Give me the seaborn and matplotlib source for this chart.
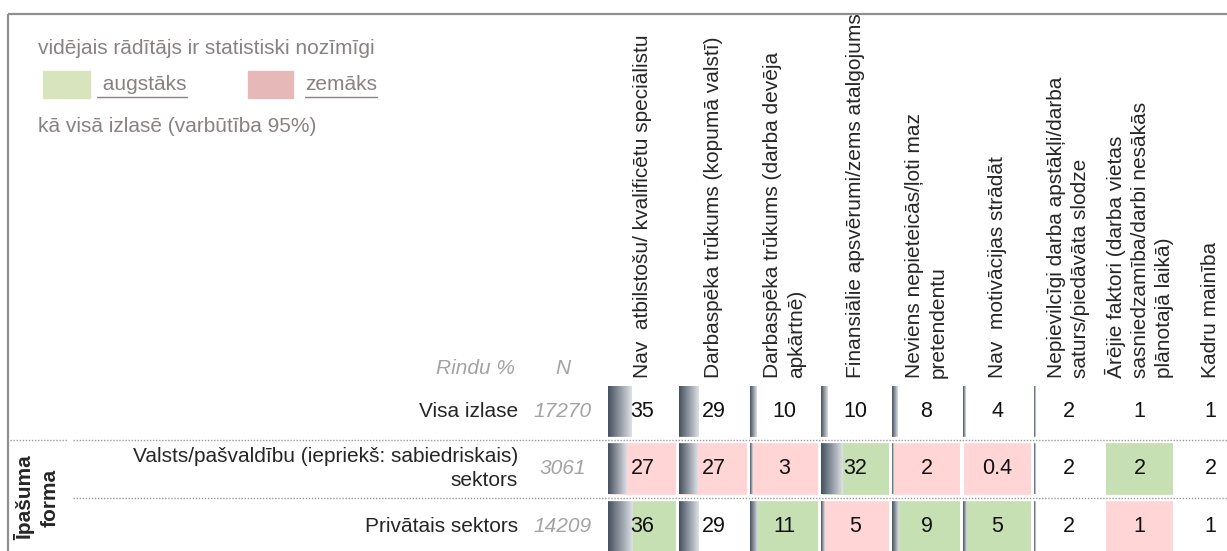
import numpy as np
import matplotlib
matplotlib.use("Agg")
import matplotlib.pyplot as plt
from matplotlib.colors import ListedColormap, LinearSegmentedColormap
from matplotlib.patches import Rectangle
import seaborn as sns

# Datos de la tabla
columnas = [
    "Nav  atbilstošu/ kvalificētu speciālistu",
    "Darbaspēka trūkums (kopumā valstī)",
    "Darbaspēka trūkums (darba devēja\napkārtnē)",
    "Finansiālie apsvērumi/zems atalgojums",
    "Neviens nepieteicās/ļoti maz\npretendentu",
    "Nav  motivācijas strādāt",
    "Nepievilcīgi darba apstākļi/darba\nsaturs/piedāvāta slodze",
    "Ārējie faktori (darba vietas\nsasniedzamība/darbi nesākās\nplānotajā laikā)",
    "Kadru mainība",
]
filas = [
    "Visa izlase",
    "Valsts/pašvaldību (iepriekš: sabiedriskais)\nsektors",
    "Privātais sektors",
]
n_valores = [17270, 3061, 14209]
grupo = "Īpašuma\nforma"

visa_izlase = [35, 29, 10, 10, 8, 4, 2, 1, 1]
valsts = [27, 27, 3, 32, 2, 0.4, 2, 2, 2]
privatais = [36, 29, 11, 5, 9, 5, 2, 1, 1]

# 1 = augstāks, -1 = zemāks, 0 = nav nozīmīgi
sig_visa = [0, 0, 0, 0, 0, 0, 0, 0, 0]
sig_valsts = [-1, -1, -1, 1, -1, -1, 0, 1, 0]
sig_priv = [1, 0, 1, -1, 1, 1, 0, -1, 0]

n_cols_barras = 7  # columnas con barras de datos

valores = np.array([visa_izlase, valsts, privatais], dtype=float)
signif = np.array([sig_visa, sig_valsts, sig_priv])
etiquetas = np.array([[f"{v:g}" for v in fila] for fila in valores])

# Estilo
sns.set_style("white")
plt.rcParams["font.family"] = ["Liberation Sans", "DejaVu Sans"]
FS = 15
FS_NUM = 15.5
verde, rosa = "#c6e0b4", "#ffd5d5"
gris_ley = "#8a8181"
gris_it = "#a3a3a3"

fig = plt.figure(figsize=(12.27, 5.51), dpi=100)

# Capa de fondo en pixeles para marco y leyenda
bg = fig.add_axes([0, 0, 1, 1])
bg.set_xlim(0, 1227)
bg.set_ylim(551, 0)
bg.axis("off")
bg.plot([8, 1227], [14, 14], color="#8f8f8f", lw=1.6, solid_capstyle="butt")
bg.plot([8, 8], [14, 551], color="#8f8f8f", lw=1.6, solid_capstyle="butt")

bg.text(38, 48, "vidējais rādītājs ir statistiski nozīmīgi", color=gris_ley,
        fontsize=FS, va="center")
bg.add_patch(Rectangle((43, 71), 47, 27, color="#d8e4bc"))
t1 = bg.text(97, 85, " augstāks", color=gris_ley, fontsize=FS, va="center")
bg.add_patch(Rectangle((248, 71), 45, 27, color="#e6b8b7"))
t2 = bg.text(305, 85, "zemāks", color=gris_ley, fontsize=FS, va="center")
bg.text(38, 126, "kā visā izlasē (varbūtība 95%)", color=gris_ley,
        fontsize=FS, va="center")

# Tabla principal
ax = fig.add_axes([607 / 1227, (551 - 555) / 551, 9 * 71 / 1227, 172.5 / 551])
sns.heatmap(signif, ax=ax, cmap=ListedColormap([rosa, "white", verde]),
            vmin=-1.5, vmax=1.5, cbar=False, linewidths=1.5, linecolor="white",
            annot=etiquetas, fmt="", annot_kws=dict(fontsize=FS_NUM, color="#111111"),
            xticklabels=False, yticklabels=False)

# Barras con degradado
grad = LinearSegmentedColormap.from_list("barra", ["#46505f", "#dde1e6"])
img = np.linspace(0, 1, 64).reshape(1, -1)
escala = 0.68 / 71
for r in range(valores.shape[0]):
    for c in range(n_cols_barras):
        w = valores[r, c] * escala
        if w * 71 < 0.5:
            continue
        ax.imshow(img, cmap=grad, extent=(c + 0.012, c + 0.012 + w, r + 0.94, r + 0.06),
                  aspect="auto", zorder=1.5, interpolation="bilinear")
ax.set_xlim(0, 9)
ax.set_ylim(3, 0)

# Separadores de filas
for r in [1, 2]:
    ax.axhline(r, color="white", lw=4.5, zorder=2.5)
    ax.plot([-7.52, 9], [r, r], color="#9a9a9a", lw=1, ls=(0, (1, 1.2)),
            clip_on=False, zorder=3)
ax.plot([-8.41, -7.61], [1, 1], color="#9a9a9a", lw=1, ls=(0, (1, 1.2)),
        clip_on=False, zorder=3)

# Encabezados de columnas
for c, lab in enumerate(columnas):
    ax.text(c + 0.5, -0.08, lab, rotation=90, ha="center", va="bottom",
            multialignment="left", fontsize=FS, linespacing=1.32, clip_on=False)

ax.text(-1.296, -0.25, "Rindu %", ha="right", va="center", style="italic",
        color=gris_it, fontsize=FS)
ax.text(-0.62, -0.25, "N", ha="center", va="center", style="italic",
        color=gris_it, fontsize=FS)

# Etiquetas de filas
for r, lab in enumerate(filas):
    ax.text(-1.254, r + 0.5, lab, ha="right", va="center", multialignment="right",
            fontsize=FS, linespacing=1.35, clip_on=False)
    ax.text(-0.62, r + 0.5, str(n_valores[r]), ha="center", va="center",
            style="italic", color=gris_it, fontsize=FS, clip_on=False)

ax.text(-8.03, 2.0, grupo, rotation=90, ha="center", va="center",
        multialignment="center", fontweight="bold", fontsize=FS,
        linespacing=1.35, clip_on=False)

# Subrayado de la leyenda
fig.canvas.draw()
inv = bg.transData.inverted()
for t in [t1, t2]:
    bb = t.get_window_extent()
    x0, _ = inv.transform((bb.x0, bb.y0))
    x1, _ = inv.transform((bb.x1, bb.y0))
    bg.plot([x0, x1], [97, 97], color=gris_ley, lw=1)

fig.savefig("out.png", dpi=100)
